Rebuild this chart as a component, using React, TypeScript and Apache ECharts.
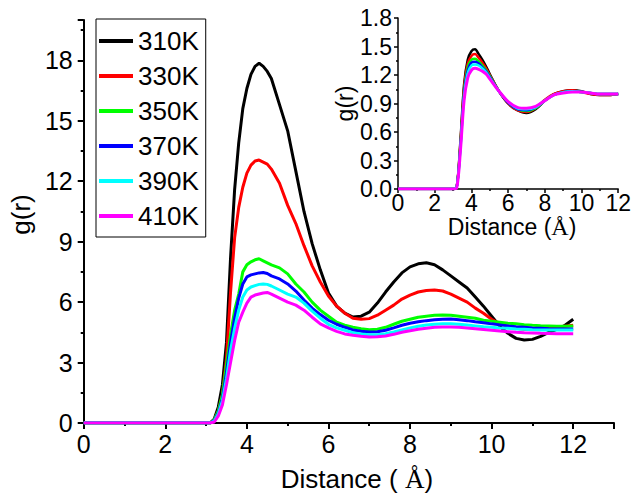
import React, { useEffect, useRef } from "react";
import * as echarts from "echarts";

const FONT = '"Liberation Sans", Arial, Helvetica, sans-serif';
const SERIF = '"Liberation Serif", "Times New Roman", serif';

const seriesNames = ["310K", "330K", "350K", "370K", "390K", "410K"];
const seriesColors = ["#000000", "#ff0000", "#00ff00", "#0000ff", "#00ffff", "#ff00ff"];

// Main panel: distance (Å)
const distance = [
  0, 3.0, 3.1, 3.2, 3.3, 3.4, 3.5, 3.6, 3.7, 3.8, 3.9, 4.0, 4.1, 4.2, 4.3, 4.4, 4.5, 4.6,
  4.8, 5.0, 5.2, 5.4, 5.6, 5.8, 6.0, 6.2, 6.4, 6.6, 6.8, 7.0, 7.2, 7.4, 7.6, 7.8, 8.0, 8.2,
  8.4, 8.6, 8.8, 9.0, 9.2, 9.4, 9.6, 9.8, 10.0, 10.2, 10.4, 10.6, 10.8, 11.0, 11.2, 11.4,
  11.6, 11.8, 12.0,
];

const g310 = [
  0, 0, 0, 0.2, 0.8, 1.9, 4.0, 8.2, 11.6, 13.9, 15.6, 16.6, 17.3, 17.7, 17.85, 17.7, 17.45, 17.1,
  15.8, 14.5, 12.5, 10.5, 8.9, 7.6, 6.45, 5.8, 5.45, 5.26, 5.3, 5.5, 5.95, 6.5, 7.0, 7.45, 7.75, 7.9,
  7.95, 7.85, 7.6, 7.3, 7.0, 6.7, 6.25, 5.8, 5.3, 4.8, 4.45, 4.2, 4.12, 4.15, 4.3, 4.5,
  4.65, 4.85, 5.15,
];
const g330 = [
  0, 0, 0, 0.15, 0.6, 1.4, 3.2, 6.5, 9.2, 10.7, 11.7, 12.4, 12.8, 13.0, 13.05, 12.95, 12.85, 12.6,
  11.9, 10.8, 9.9, 8.8, 7.8, 7.0, 6.3, 5.8, 5.45, 5.2, 5.15, 5.18, 5.35, 5.6, 5.85, 6.15, 6.35, 6.5,
  6.58, 6.6, 6.55, 6.4, 6.2, 6.0, 5.7, 5.45, 5.15, 4.92, 4.8, 4.7, 4.65, 4.65, 4.68, 4.7,
  4.75, 4.8, 4.85,
];
const g350 = [
  0, 0, 0, 0.15, 0.6, 1.4, 2.9, 4.4, 5.6, 6.4, 7.5, 7.85, 8.0, 8.1, 8.15, 8.05, 7.95, 7.85,
  7.7, 7.4, 6.9, 6.5, 6.0, 5.6, 5.3, 5.0, 4.85, 4.75, 4.68, 4.63, 4.65, 4.75, 4.9, 5.05, 5.15, 5.25,
  5.3, 5.35, 5.36, 5.35, 5.3, 5.25, 5.2, 5.1, 5.05, 5.0, 4.95, 4.92, 4.88, 4.85, 4.83, 4.82,
  4.8, 4.8, 4.82,
];
const g370 = [
  0, 0, 0, 0.12, 0.5, 1.2, 2.5, 4.0, 5.2, 6.2, 6.9, 7.25, 7.35, 7.4, 7.45, 7.47, 7.42, 7.3,
  7.15, 6.9, 6.55, 6.1, 5.7, 5.38, 5.1, 4.9, 4.75, 4.62, 4.55, 4.52, 4.53, 4.6, 4.72, 4.85, 4.95, 5.02,
  5.08, 5.12, 5.15, 5.16, 5.12, 5.08, 5.02, 4.98, 4.92, 4.87, 4.82, 4.78, 4.75, 4.72, 4.7, 4.68,
  4.67, 4.67, 4.67,
];
const g390 = [
  0, 0, 0, 0.1, 0.45, 1.1, 2.2, 3.6, 4.7, 5.6, 6.25, 6.6, 6.75, 6.82, 6.88, 6.9, 6.88, 6.8,
  6.6, 6.4, 6.25, 5.95, 5.55, 5.2, 4.9, 4.72, 4.6, 4.48, 4.42, 4.38, 4.38, 4.43, 4.52, 4.62, 4.72, 4.8,
  4.86, 4.9, 4.92, 4.92, 4.9, 4.86, 4.82, 4.78, 4.75, 4.72, 4.7, 4.67, 4.65, 4.63, 4.62, 4.62,
  4.62, 4.62, 4.62,
];
const g410 = [
  0, 0, 0, 0.05, 0.35, 0.9, 1.9, 3.0, 4.1, 5.0, 5.5, 5.95, 6.25, 6.35, 6.4, 6.45, 6.48, 6.4,
  6.2, 6.0, 5.85, 5.6, 5.25, 4.92, 4.72, 4.55, 4.42, 4.35, 4.3, 4.27, 4.28, 4.32, 4.4, 4.5, 4.58, 4.65,
  4.7, 4.75, 4.77, 4.77, 4.75, 4.72, 4.68, 4.64, 4.6, 4.56, 4.53, 4.5, 4.48, 4.47, 4.45, 4.44,
  4.43, 4.43, 4.43,
];
const mainValues = [g310, g330, g350, g370, g390, g410];

// Inset panel
const insetDistance = [
  0, 3.0, 3.2, 3.4, 3.6, 3.8, 4.0, 4.2, 4.4, 4.6, 4.8, 5.0, 5.5, 6.0, 6.5, 7.0, 7.5, 8.0, 8.5,
  9.0, 9.5, 10.0, 10.5, 11.0, 11.5, 12.0,
];
const inset310 = [0, 0, 0.02, 0.5, 1.1, 1.36, 1.45, 1.47, 1.42, 1.36, 1.29, 1.21, 1.03, 0.9, 0.83, 0.8, 0.84, 0.93, 1.0, 1.03, 1.04, 1.03, 1.0, 0.99, 0.99, 1.0];
const inset330 = [0, 0, 0.02, 0.48, 1.06, 1.32, 1.4, 1.42, 1.38, 1.33, 1.27, 1.2, 1.03, 0.9, 0.83, 0.81, 0.85, 0.94, 1.0, 1.03, 1.04, 1.02, 1.0, 0.99, 0.99, 1.0];
const inset350 = [0, 0, 0.02, 0.46, 1.02, 1.28, 1.36, 1.37, 1.34, 1.3, 1.25, 1.19, 1.03, 0.91, 0.84, 0.82, 0.85, 0.93, 0.99, 1.02, 1.03, 1.02, 1.01, 1.0, 1.0, 1.0];
const inset370 = [0, 0, 0.02, 0.44, 1.0, 1.25, 1.33, 1.34, 1.32, 1.28, 1.24, 1.18, 1.03, 0.91, 0.84, 0.83, 0.86, 0.93, 0.99, 1.02, 1.03, 1.02, 1.01, 1.0, 1.0, 1.0];
const inset390 = [0, 0, 0.02, 0.42, 0.97, 1.22, 1.3, 1.31, 1.3, 1.27, 1.23, 1.17, 1.03, 0.92, 0.85, 0.84, 0.86, 0.93, 0.99, 1.02, 1.03, 1.02, 1.01, 1.0, 1.0, 1.0];
const inset410 = [0, 0, 0.01, 0.4, 0.93, 1.17, 1.25, 1.27, 1.26, 1.24, 1.21, 1.16, 1.03, 0.92, 0.86, 0.85, 0.87, 0.93, 0.99, 1.01, 1.02, 1.02, 1.01, 1.0, 1.0, 1.0];
const insetValues = [inset310, inset330, inset350, inset370, inset390, inset410];

const axisCommon = (fontSize: number, lineWidth: number) => ({
  axisLine: { show: true, onZero: false, lineStyle: { color: "#000", width: lineWidth } },
  axisTick: { show: true, inside: false, length: 6, lineStyle: { color: "#000", width: lineWidth } },
  minorTick: { show: true, splitNumber: 2, length: 3, lineStyle: { color: "#000", width: lineWidth } },
  splitLine: { show: false },
  minorSplitLine: { show: false },
  axisLabel: { color: "#000", fontSize, fontFamily: FONT, showMaxLabel: false },
  nameTextStyle: { color: "#000", fontFamily: FONT },
});

export default function App() {
  const ref = useRef<HTMLDivElement>(null);
  useEffect(() => {
    if (!ref.current) return;
    const chart = echarts.init(ref.current, undefined, { renderer: "svg" });
    const mainSeries = seriesNames.map((name, k) => ({
      name,
      type: "line",
      xAxisIndex: 0,
      yAxisIndex: 0,
      showSymbol: false,
      symbol: "none",
      color: seriesColors[k],
      lineStyle: { width: 3, color: seriesColors[k] },
      data: distance.map((x, i) => [x, mainValues[k][i]]),
      z: 2 + k,
    }));
    const insetSeries = seriesNames.map((name, k) => ({
      name,
      type: "line",
      xAxisIndex: 1,
      yAxisIndex: 1,
      showSymbol: false,
      symbol: "none",
      smooth: 0.3,
      color: seriesColors[k],
      lineStyle: { width: k === 5 ? 3 : 2.5, color: seriesColors[k] },
      data: insetDistance.map((x, i) => [x, insetValues[k][i]]),
      z: 2 + k,
    }));
    const c0 = axisCommon(25, 2);
    const c1 = axisCommon(23, 1.5);
    chart.setOption({
      animation: false,
      backgroundColor: "#fff",
      textStyle: { fontFamily: FONT },
      legend: {
        data: seriesNames,
        orient: "vertical",
        left: 96,
        top: 19,
        padding: [9, 7, 8, 3],
        itemGap: 9,
        itemWidth: 34,
        itemHeight: 4,
        icon: "rect",
        borderColor: "#000",
        borderWidth: 1,
        textStyle: { fontSize: 26, color: "#000", fontFamily: FONT },
      },
      grid: [
        { left: 83, top: 20, right: 20, bottom: 70, containLabel: false },
        { left: 398, top: 18, width: 222, height: 171, containLabel: false },
      ],
      xAxis: [
        {
          type: "value",
          gridIndex: 0,
          min: 0,
          max: 13,
          interval: 2,
          ...c0,
          axisLabel: { ...c0.axisLabel, margin: 8 },
          name: "Distance ( {s|Å})",
          nameLocation: "middle",
          nameGap: 42,
          nameTextStyle: {
            ...c0.nameTextStyle,
            fontSize: 26,
            padding: [0, 0, 0, 16],
            rich: { s: { fontFamily: SERIF, fontSize: 27, color: "#000" } },
          },
        },
        {
          type: "value",
          gridIndex: 1,
          min: 0,
          max: 12,
          interval: 2,
          ...c1,
          axisTick: { ...c1.axisTick, length: 4 },
          minorTick: { ...c1.minorTick, length: 2 },
          axisLabel: { ...c1.axisLabel, showMaxLabel: true, margin: 2 },
          name: "Distance ({s|Å})",
          nameLocation: "middle",
          nameGap: 21,
          nameTextStyle: {
            ...c1.nameTextStyle,
            fontSize: 23,
            padding: [0, 0, 0, 8],
            rich: { s: { fontFamily: SERIF, fontSize: 24, color: "#000" } },
          },
        },
      ],
      yAxis: [
        {
          type: "value",
          gridIndex: 0,
          min: 0,
          max: 20,
          interval: 3,
          ...c0,
          axisLabel: { ...c0.axisLabel, margin: 11 },
          name: "g(r)",
          nameLocation: "middle",
          nameGap: 48,
          nameTextStyle: { ...c0.nameTextStyle, fontSize: 26, padding: [0, 0, 0, 14] },
        },
        {
          type: "value",
          gridIndex: 1,
          min: 0,
          max: 1.8,
          interval: 0.3,
          ...c1,
          axisTick: { ...c1.axisTick, length: 4 },
          minorTick: { ...c1.minorTick, length: 2 },
          axisLabel: {
            ...c1.axisLabel,
            showMaxLabel: true,
            margin: 6,
            formatter: (v: number) => v.toFixed(1),
          },
          name: "g(r)",
          nameLocation: "middle",
          nameGap: 38,
          nameTextStyle: { ...c1.nameTextStyle, fontSize: 23 },
        },
      ],
      series: [...mainSeries, ...insetSeries],
    });
    return () => chart.dispose();
  }, []);
  return (
    <div
      ref={ref}
      style={{ position: "fixed", left: 0, top: 0, width: 634, height: 497, background: "#fff" }}
    />
  );
}
